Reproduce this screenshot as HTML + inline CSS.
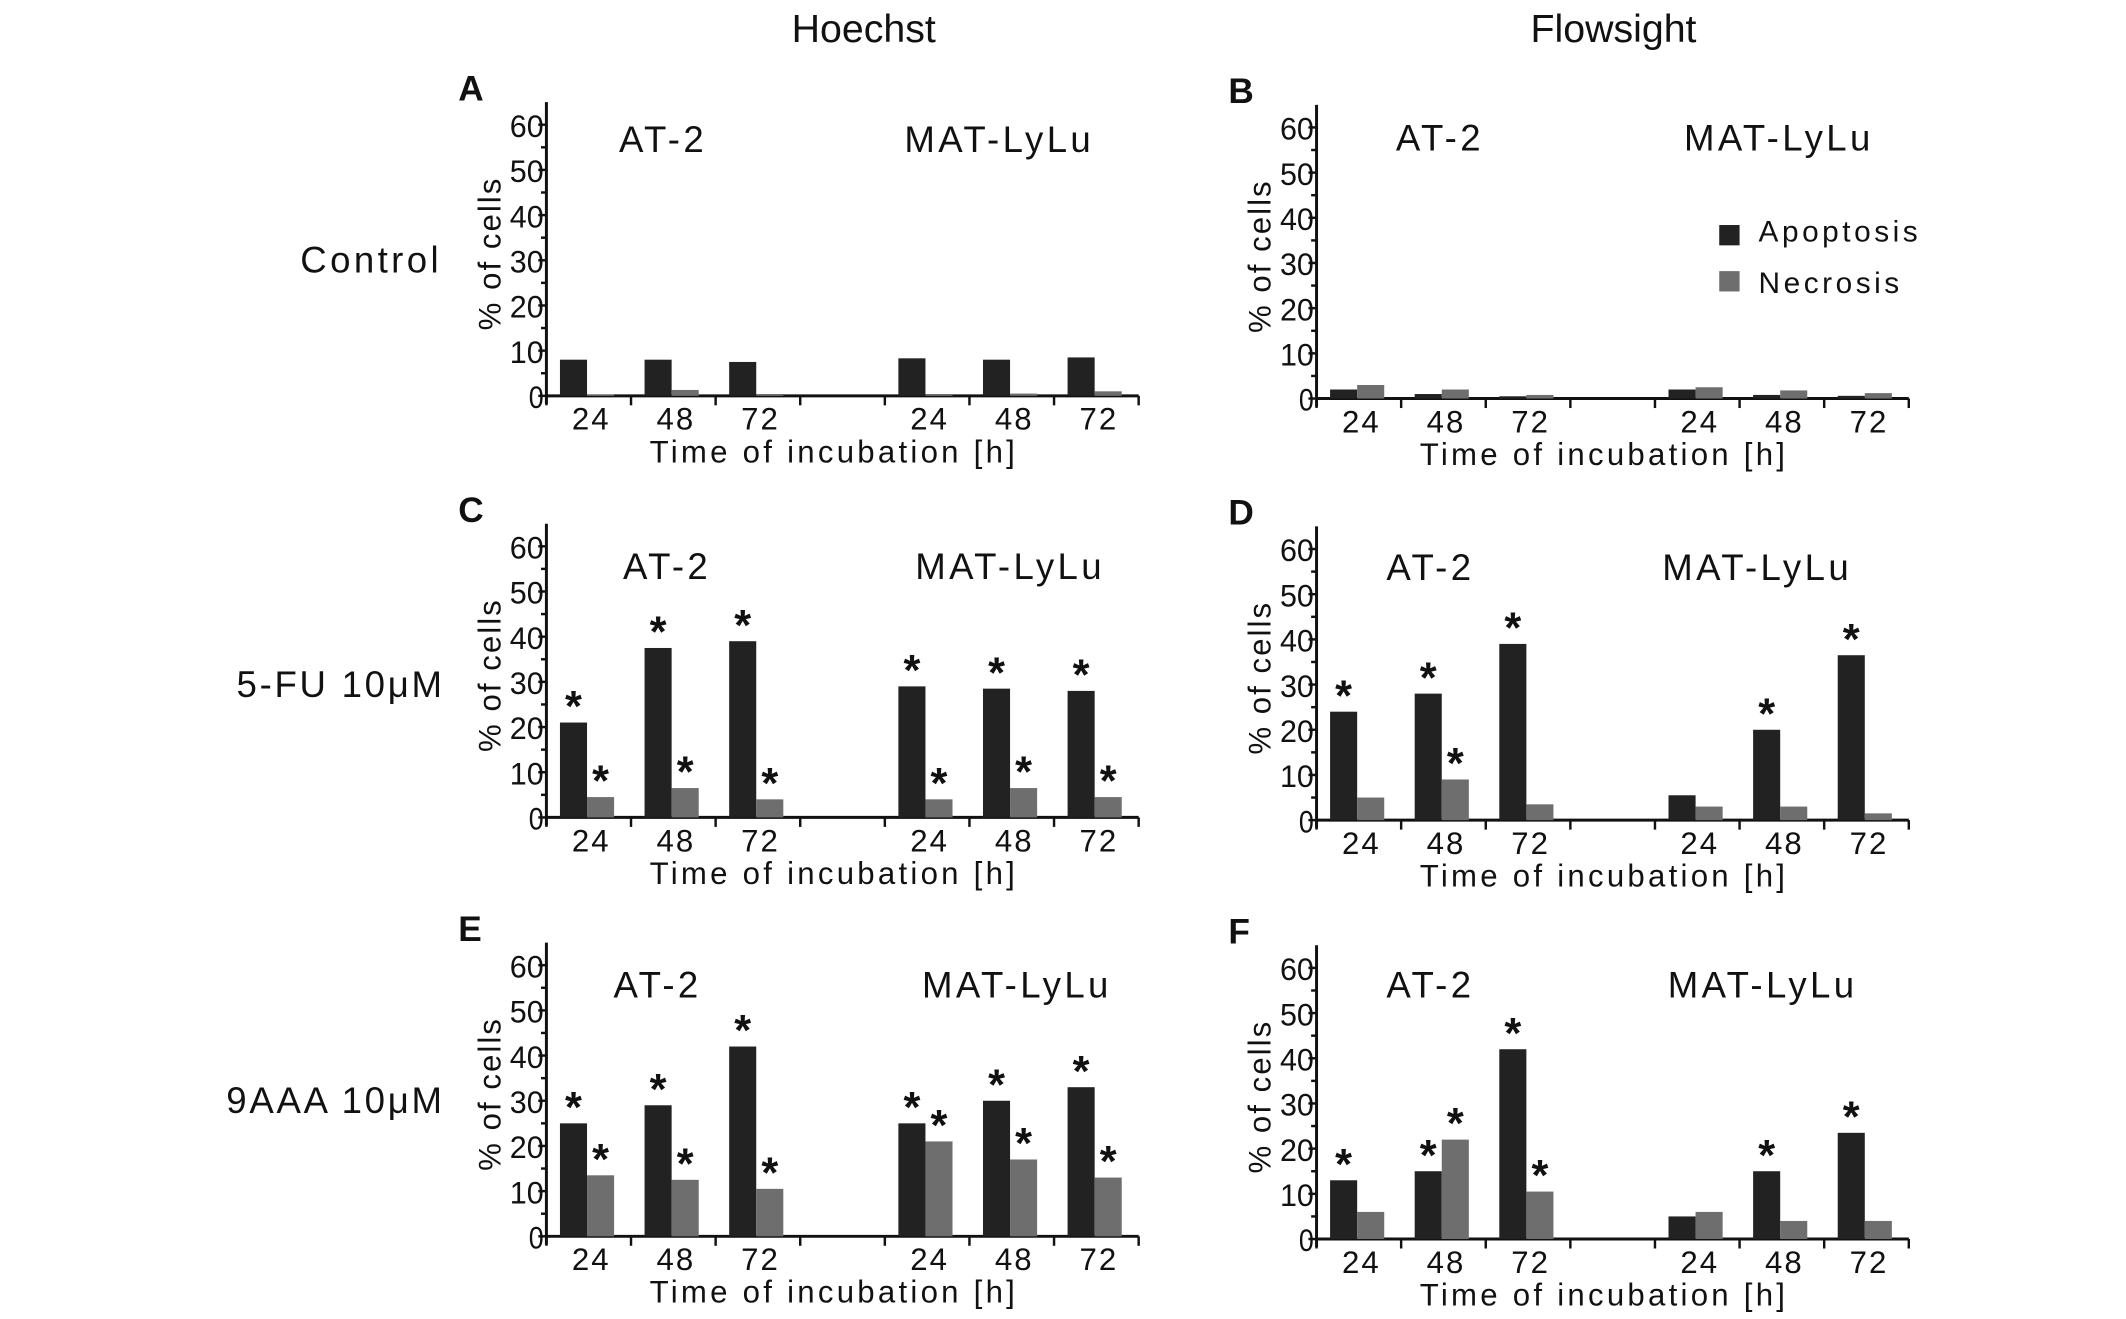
<!DOCTYPE html>
<html><head><meta charset="utf-8"><style>
html,body{margin:0;padding:0;background:#fff;}
svg{display:block;}
text{font-family:"Liberation Sans",sans-serif;fill:#111;}
</style></head><body>
<svg id="fig" width="2126" height="1319" viewBox="0 0 1568 973" preserveAspectRatio="none" xmlns="http://www.w3.org/2000/svg">
<text x="637" y="31" font-size="29" text-anchor="middle">Hoechst</text>
<text x="1190" y="31" font-size="29" text-anchor="middle">Flowsight</text>
<text x="326" y="201" font-size="27" text-anchor="end" letter-spacing="2.5">Control</text>
<text x="328" y="514" font-size="27" text-anchor="end" letter-spacing="2">5-FU 10μM</text>
<text x="328" y="821" font-size="27" text-anchor="end" letter-spacing="2">9AAA 10μM</text>
<g>
<rect x="1268" y="166" width="15" height="15" fill="#222"/>
<text x="1297" y="178" font-size="22" letter-spacing="2.6">Apoptosis</text>
<rect x="1268" y="200" width="15" height="15" fill="#6e6e6e"/>
<text x="1297" y="216" font-size="22" letter-spacing="2.6">Necrosis</text>
</g>
</svg>
<script>
const timeLabels = ["24","48","72","24","48","72"];
const yTicks = [0,10,20,30,40,50,60];
const aApop = [8,8,7.5,8.3,8,8.5];
const aNecr = [0.3,1.3,0.4,0.2,0.5,1];
const bApop = [2,1,0.5,2,0.8,0.6];
const bNecr = [3,2,0.8,2.5,1.8,1.2];
const cApop = [21,37.5,39,29,28.5,28];
const cNecr = [4.5,6.5,4,4,6.5,4.5];
const cApopStar = [1,1,1,1,1,1];
const cNecrStar = [1,1,1,1,1,1];
const dApop = [24,28,39,5.5,20,36.5];
const dNecr = [5,9,3.5,3,3,1.5];
const dApopStar = [1,1,1,0,1,1];
const dNecrStar = [0,1,0,0,0,0];
const eApop = [25,29,42,25,30,33];
const eNecr = [13.5,12.5,10.5,21,17,13];
const eApopStar = [1,1,1,1,1,1];
const eNecrStar = [1,1,1,1,1,1];
const fApop = [13,15,42,5,15,23.5];
const fNecr = [6,22,10.5,6,4,4];
const fApopStar = [1,1,1,0,1,1];
const fNecrStar = [0,1,1,0,0,0];
const none = [0,0,0,0,0,0];

const NS="http://www.w3.org/2000/svg";
const svg=document.getElementById('fig');
function mk(tag,attrs,parent,txt){const e=document.createElementNS(NS,tag);for(const k in attrs)e.setAttribute(k,attrs[k]);if(txt!==undefined)e.textContent=txt;(parent||svg).appendChild(e);return e;}

function panel(letter,ax,zero,apop,necr,aStar,nStar,t1x,t2x,ty){
  const g=mk('g',{});
  
  
  const unit=200/60; const y=v=>zero-v*unit; const iw=62.4; const xend=ax+7*iw;
  const L=mk('text',{x:ax-65,y:zero-218,'font-size':26,'font-weight':'bold','font-family':'Liberation Serif'},g,letter);
  
  
  const ya=mk('line',{x1:ax,y1:y(65),x2:ax,y2:zero+6,stroke:'#111','stroke-width':2.2},g);
  
  
  for(let v=0;v<=60;v+=5){mk('line',{x1:ax-(v%10===0?6:4),y1:y(v),x2:ax,y2:y(v),stroke:'#111','stroke-width':1.8},g);}
  yTicks.forEach(v=>{const t=mk('text',{x:ax-2,y:y(v)+9,'font-size':23,'text-anchor':'end',textLength:v===0?11:25,lengthAdjust:'spacingAndGlyphs'},g,String(v));
    
    });
  const yt=mk('text',{x:0,y:0,'font-size':23,'text-anchor':'middle','letter-spacing':1.5,transform:`translate(${ax-34},${zero-105}) rotate(-90)`},g,'% of cells');
  
  
  const xa=mk('line',{x1:ax,y1:zero,x2:xend,y2:zero,stroke:'#111','stroke-width':2.2},g);
  
  
  for(let i=0;i<=7;i++)mk('line',{x1:ax+i*iw,y1:zero,x2:ax+i*iw,y2:zero+7,stroke:'#111','stroke-width':1.8},g);
  const slots=[0,1,2,4,5,6];
  apop.forEach((v,i)=>{
    const x0=ax+slots[i]*iw;
    const r=mk('rect',{x:x0+0.16*iw,y:y(v),width:0.32*iw,height:v*unit,fill:'#222'},g);
    
    
    const n=necr[i];
    const r2=mk('rect',{x:x0+0.48*iw,y:y(n),width:0.32*iw,height:n*unit,fill:'#6e6e6e'},g);
    
    
    if(aStar[i]){const s=mk('text',{x:x0+0.32*iw,y:y(v)-1,'font-size':32,'text-anchor':'middle','font-weight':'bold'},g,'*');
      
      }
    if(nStar[i]){const s=mk('text',{x:x0+0.64*iw,y:y(n)-1,'font-size':32,'text-anchor':'middle','font-weight':'bold'},g,'*');
      
      }
    const tl=mk('text',{x:x0+0.53*iw,y:zero+25,'font-size':23,'text-anchor':'middle','letter-spacing':1.5},g,timeLabels[i]);
    
    
  });
  const xt=mk('text',{x:ax+212,y:zero+49,'font-size':23,'text-anchor':'middle','letter-spacing':2.4},g,'Time of incubation [h]');
  
  
  const a=mk('text',{x:t1x,y:ty,'font-size':27,'text-anchor':'middle','letter-spacing':2.5},g,'AT-2');
  
  
  const m=mk('text',{x:t2x,y:ty,'font-size':27,'text-anchor':'middle','letter-spacing':2.5},g,'MAT-LyLu');
  
  
}
panel('A',403,292,aApop,aNecr,none,none,489,737,112);
panel('B',971,294,bApop,bNecr,none,none,1062,1312,111);
panel('C',403,603,cApop,cNecr,cApopStar,cNecrStar,492,745,427);
panel('D',971,605,dApop,dNecr,dApopStar,dNecrStar,1055,1296,428);
panel('E',403,912,eApop,eNecr,eApopStar,eNecrStar,485,750,736);
panel('F',971,914,fApop,fNecr,fApopStar,fNecrStar,1055,1300,736);
</script>
</body></html>
